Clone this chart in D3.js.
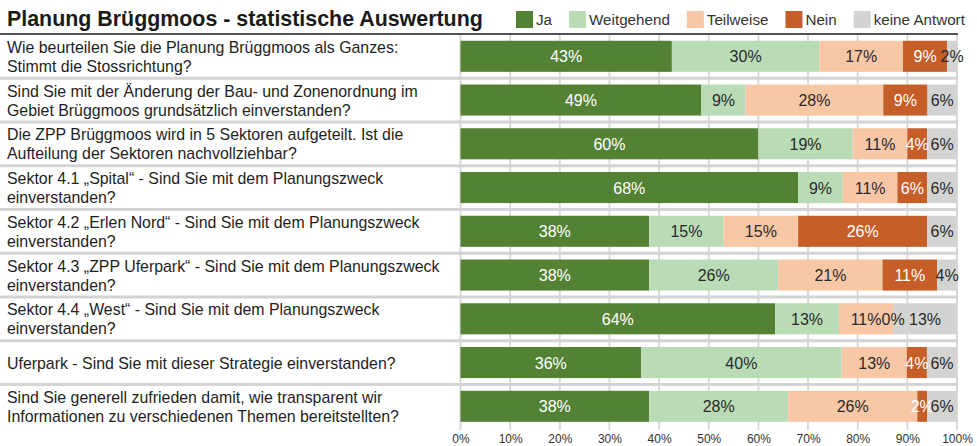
<!DOCTYPE html>
<html>
<head>
<meta charset="utf-8">
<script src="https://cdn.jsdelivr.net/npm/d3@7"></script>
<style>
  body { margin: 0; background: #fff; }
  svg { font-family: "Liberation Sans", Arial, sans-serif; display: block; }
</style>
</head>
<body>
<div id="wrapper"></div>
<script>
// questions (one per row), answer categories and percentages
const questions = [
  ["Wie beurteilen Sie die Planung Brüggmoos als Ganzes:", "Stimmt die Stossrichtung?"],
  ["Sind Sie mit der Änderung der Bau- und Zonenordnung im", "Gebiet Brüggmoos grundsätzlich einverstanden?"],
  ["Die ZPP Brüggmoos wird in 5 Sektoren aufgeteilt. Ist die", "Aufteilung der Sektoren nachvollziehbar?"],
  ["Sektor 4.1 „Spital“ - Sind Sie mit dem Planungszweck", "einverstanden?"],
  ["Sektor 4.2 „Erlen Nord“ - Sind Sie mit dem Planungszweck", "einverstanden?"],
  ["Sektor 4.3 „ZPP Uferpark“ - Sind Sie mit dem Planungszweck", "einverstanden?"],
  ["Sektor 4.4 „West“ - Sind Sie mit dem Planungszweck", "einverstanden?"],
  ["Uferpark - Sind Sie mit dieser Strategie einverstanden?"],
  ["Sind Sie generell zufrieden damit, wie transparent wir", "Informationen zu verschiedenen Themen bereitstellten?"]
];
const categories = ["Ja", "Weitgehend", "Teilweise", "Nein", "keine Antwort"];
const colors = ["#548235", "#b9dcb7", "#f8c7a5", "#c55e28", "#d3d3d1"];

const ja          = [43, 49, 60, 68, 38, 38, 64, 36, 38];
const weitgehend  = [30,  9, 19,  9, 15, 26, 13, 40, 28];
const teilweise   = [17, 28, 11, 11, 15, 21, 11, 13, 26];
const nein        = [ 9,  9,  4,  6, 26, 11,  0,  4,  2];
const keineAntwort= [ 2,  6,  6,  6,  6,  4, 13,  6,  6];

const xTicks = [0, 0.1, 0.2, 0.3, 0.4, 0.5, 0.6, 0.7, 0.8, 0.9, 1];

const series = [ja, weitgehend, teilweise, nein, keineAntwort];
const rows = questions.map((q, i) => {
  const r = { id: i, label: q };
  categories.forEach((c, k) => r[c] = series[k][i]);
  return r;
});

const width = 977, height = 446;
const svg = d3.select("#wrapper").append("svg")
  .attr("width", width).attr("height", height);

const x = d3.scaleLinear().domain([0, 1]).range([460.5, 957]);
const y = d3.scaleBand().domain(rows.map(d => d.id))
  .range([34.3, 428.3]).paddingInner(0.29).paddingOuter(0.148);
const color = d3.scaleOrdinal().domain(categories).range(colors);

const stacked = d3.stack().keys(categories).offset(d3.stackOffsetExpand)(rows);

// title
svg.append("text")
  .attr("x", 7).attr("y", 26)
  .attr("font-size", 21.4).attr("font-weight", "bold").attr("fill", "#1a1a1a")
  .text("Planung Brüggmoos - statistische Auswertung");

svg.append("line")
  .attr("x1", 0).attr("x2", 958).attr("y1", 34).attr("y2", 34)
  .attr("stroke", "#1a1a1a").attr("stroke-width", 1.5);

// legend
const legend = svg.append("g");
let lx = 516;
categories.forEach(c => {
  legend.append("rect").attr("x", lx).attr("y", 11).attr("width", 17).attr("height", 17)
    .attr("fill", color(c));
  const t = legend.append("text").attr("x", lx + 20).attr("y", 25)
    .attr("font-size", 15.2).attr("fill", "#333").text(c);
  lx += 20 + t.node().getComputedTextLength() + 17;
});

// vertical gridlines
svg.append("g").selectAll("line").data(xTicks).join("line")
  .attr("x1", d => x(d)).attr("x2", d => x(d))
  .attr("y1", 35).attr("y2", 430)
  .attr("stroke", "#dadada").attr("stroke-width", 2);

// row separators
const step = y.step();
svg.append("g").selectAll("line").data(rows.slice(1)).join("line")
  .attr("x1", 0).attr("x2", 958)
  .attr("y1", d => y(d.id) - (step - y.bandwidth()) / 2)
  .attr("y2", d => y(d.id) - (step - y.bandwidth()) / 2)
  .attr("stroke", "#d4d4d4").attr("stroke-width", 3);

// bars
const layers = svg.append("g").selectAll("g").data(stacked).join("g")
  .attr("fill", d => color(d.key));
layers.selectAll("rect").data(d => d).join("rect")
  .attr("x", d => x(d[0]))
  .attr("width", d => x(d[1]) - x(d[0]))
  .attr("y", d => y(d.data.id))
  .attr("height", y.bandwidth());

// value labels
stacked.forEach(layer => {
  const dark = layer.key === "Ja" || layer.key === "Nein";
  svg.append("g").selectAll("text").data(layer).join("text")
    .attr("x", d => (x(d[0]) + x(d[1])) / 2)
    .attr("y", d => y(d.data.id) + y.bandwidth() / 2 + 6)
    .attr("text-anchor", "middle")
    .attr("font-size", 16)
    .attr("fill", d => dark && d.data[layer.key] > 0 ? "#fff" : "#2a2a2a")
    .text(d => d.data[layer.key] + "%");
});

// question labels
const labels = svg.append("g").selectAll("text").data(rows).join("text")
  .attr("font-size", 15.9).attr("fill", "#1e1e1e")
  .attr("y", d => d.label.length > 1
      ? y(d.id) + y.bandwidth() / 2 - 3.5
      : y(d.id) + y.bandwidth() / 2 + 6);
labels.selectAll("tspan").data(d => d.label).join("tspan")
  .attr("x", 7)
  .attr("dy", (d, i) => i === 0 ? 0 : 19)
  .text(d => d);

// x axis
const axis = svg.append("g")
  .attr("transform", `translate(0,${430})`)
  .call(d3.axisBottom(x).tickValues(xTicks).tickFormat(d3.format(".0%")).tickSize(0).tickPadding(4));
axis.select(".domain").remove();
axis.selectAll("text").attr("font-size", 12).attr("fill", "#333")
  .attr("font-family", "Liberation Sans, Arial, sans-serif");
</script>
</body>
</html>
